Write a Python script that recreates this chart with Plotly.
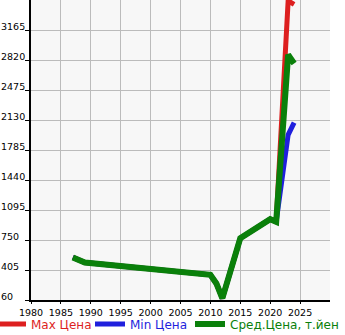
import plotly.graph_objects as go

years_avg = [1987, 1989, 2010, 2011, 2012, 2015, 2020, 2021, 2023, 2024]
avg_vals = [550, 490, 350, 250, 80, 770, 990, 960, 2880, 2780]

years_max = [1987, 1989, 2010, 2011, 2012, 2015, 2020, 2021, 2023, 2024]
max_vals = [550, 490, 350, 250, 80, 770, 990, 960, 3500, 3460]

years_min = [1987, 1989, 2010, 2011, 2012, 2015, 2020, 2021, 2023, 2024]
min_vals = [550, 490, 350, 250, 80, 770, 990, 960, 1960, 2100]

x_ticks = [1980, 1985, 1990, 1995, 2000, 2005, 2010, 2015, 2020, 2025]
y_ticks = [60, 405, 750, 1095, 1440, 1785, 2130, 2475, 2820, 3165]

RED = "#dd1f1f"
BLUE = "#1f1fdd"
GREEN = "#0a800a"
FONT = "DejaVu Sans"
TICK_SIZE = 9.5

L, R, T, B = 31, 15, 0, 35
W, H = 345, 335
pw = W - L - R
ph = H - T - B

fig = go.Figure()
fig.add_trace(go.Scatter(x=years_max, y=max_vals, mode="lines", name="Max Цена",
                         line=dict(color=RED, width=5), legend="legend"))
fig.add_trace(go.Scatter(x=years_min, y=min_vals, mode="lines", name="Min Цена",
                         line=dict(color=BLUE, width=5), legend="legend2"))
fig.add_trace(go.Scatter(x=years_avg, y=avg_vals, mode="lines", name="Сред.Цена, т.йен",
                         line=dict(color=GREEN, width=6), legend="legend3"))

annotations = []
for v in y_ticks:
    annotations.append(dict(x=-(L + 1) / pw, xref="paper", y=v, yref="y",
                            text=str(v), showarrow=False, xanchor="left",
                            yanchor="middle", yshift=4,
                            font=dict(family=FONT, size=TICK_SIZE, color="black")))


def leg(px, color):
    return dict(orientation="h", xref="paper", yref="paper",
                x=(px - L) / pw, y=(ph - (324 - T)) / ph,
                xanchor="left", yanchor="middle",
                font=dict(family=FONT, size=12, color=color), itemwidth=30,
                bgcolor="rgba(0,0,0,0)", borderwidth=0)


fig.update_layout(
    width=W, height=H,
    margin=dict(l=L, r=R, t=T, b=B, autoexpand=False),
    paper_bgcolor="white",
    plot_bgcolor="#f7f7f7",
    font=dict(family=FONT, size=TICK_SIZE, color="black"),
    showlegend=True,
    legend=leg(-9, RED),
    legend2=leg(90, BLUE),
    legend3=leg(190, GREEN),
    annotations=annotations,
    xaxis=dict(range=[1980, 2030], tickvals=x_ticks, ticktext=[str(t) for t in x_ticks],
               showgrid=True, gridcolor="#bbbbbb", gridwidth=1,
               showline=True, linecolor="black", linewidth=2,
               ticks="outside", ticklen=2, tickcolor="black", ticklabelstandoff=1,
               zeroline=False, tickfont=dict(family=FONT, size=TICK_SIZE)),
    yaxis=dict(range=[60, 3510], tickvals=y_ticks, showticklabels=False,
               showgrid=True, gridcolor="#bbbbbb", gridwidth=1,
               showline=True, linecolor="black", linewidth=2,
               ticks="outside", ticklen=4, tickcolor="black",
               zeroline=False),
)

fig.write_html("out.html")
